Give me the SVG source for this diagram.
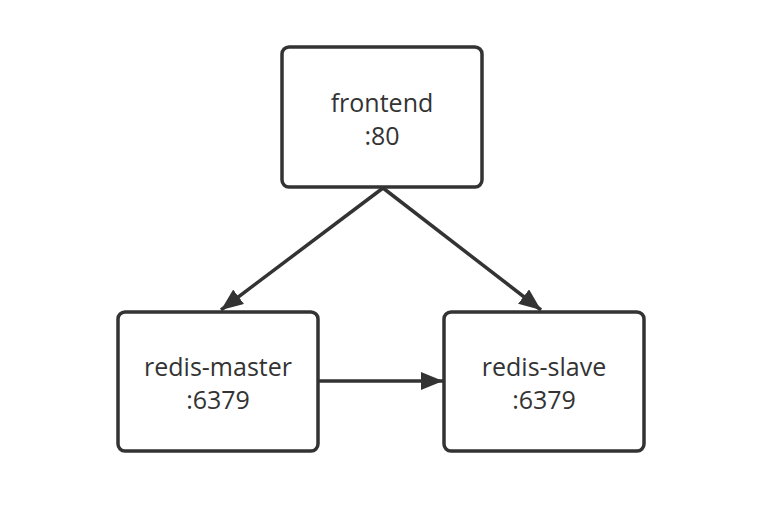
<svg xmlns="http://www.w3.org/2000/svg" width="768" height="524" viewBox="0 0 768 524">
<style>
.box{fill:#fff;stroke:#333;stroke-width:3.5}
.lbl{font-family:"Open Sans","Liberation Sans",Arial,sans-serif;font-size:25px;fill:#333;text-anchor:middle}
.edge{stroke:#333;stroke-width:3.5;fill:none}
</style>
<defs>
<marker id="arr" viewBox="0 0 22 18" refX="22" refY="9" markerWidth="22" markerHeight="18" markerUnits="userSpaceOnUse" orient="auto">
<path d="M0,0 L22,9 L0,18 Z" fill="#333"/>
</marker>
</defs>
<rect width="768" height="524" fill="#fff"/>
<g id="connectors">
<line class="edge" x1="383" y1="188" x2="221" y2="310" marker-end="url(#arr)"/>
<line class="edge" x1="383" y1="188" x2="541" y2="310" marker-end="url(#arr)"/>
<line class="edge" x1="319" y1="381" x2="443" y2="381" marker-end="url(#arr)"/>
</g>
<g id="frontend">
<rect class="box" x="282" y="47" width="200" height="140" rx="7"/>
<text class="lbl" x="382" y="112">frontend</text>
<text class="lbl" x="382" y="145">:80</text>
</g>
<g id="redis-master">
<rect class="box" x="118" y="312" width="200" height="139" rx="7"/>
<text class="lbl" x="218" y="376">redis-master</text>
<text class="lbl" x="218" y="409">:6379</text>
</g>
<g id="redis-slave">
<rect class="box" x="444" y="312" width="200" height="139" rx="7"/>
<text class="lbl" x="544" y="376">redis-slave</text>
<text class="lbl" x="544" y="409">:6379</text>
</g>
</svg>
